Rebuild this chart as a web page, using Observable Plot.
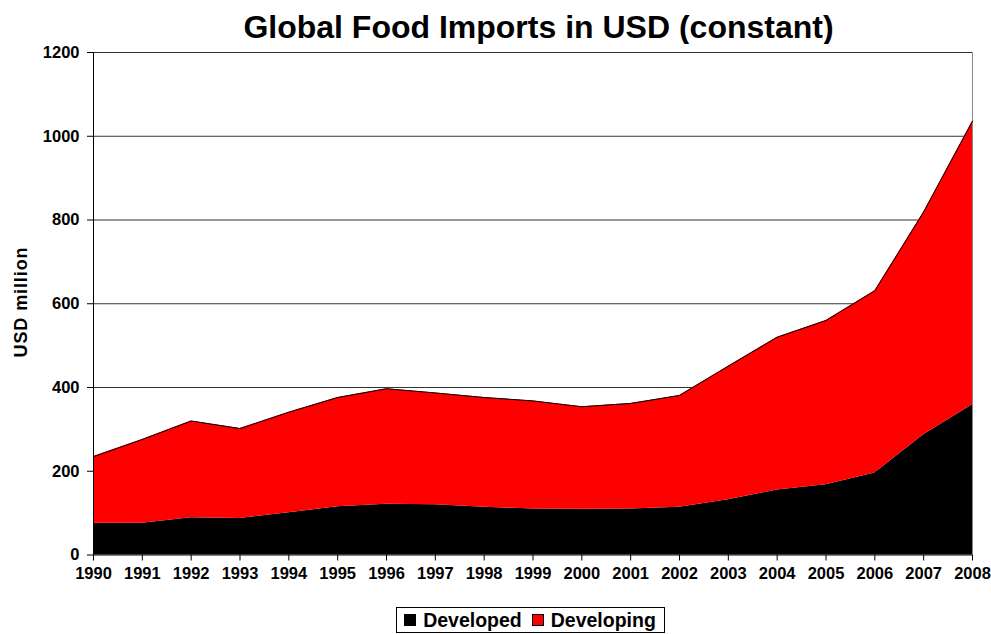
<!DOCTYPE html>
<html>
<head>
<meta charset="utf-8">
<script src="https://cdn.jsdelivr.net/npm/d3@7"></script>
<script src="https://cdn.jsdelivr.net/npm/@observablehq/plot@0.6"></script>
<style>
  html, body { margin: 0; padding: 0; background: #fff; }
  body { width: 991px; height: 634px; overflow: hidden; font-family: Arial, "Liberation Sans", sans-serif; }
  #title { height: 44px; line-height: 30px; padding-top: 12px; box-sizing: border-box; text-align: center; font-size: 32px; font-weight: bold; color: #000; padding-left: 86px; white-space: nowrap; }
  #chart { position: relative; }
  #ylabel { position: absolute; left: 21px; top: 258px; transform: translate(-50%, -50%) rotate(-90deg); font-size: 18px; font-weight: bold; letter-spacing: 0.9px; white-space: nowrap; }
  #legendWrap { display: flex; justify-content: center; padding-left: 70px; margin-top: 3px; }
  #legend { display: flex; align-items: center; border: 1px solid #000; padding: 1px 8px 1px 7px; font-size: 19.5px; font-weight: bold; height: 26px; box-sizing: border-box; }
  .sw { width: 12px; height: 12px; border: 1px solid #000; box-sizing: border-box; margin-right: 7px; }
  .item { display: flex; align-items: center; margin-right: 10px; }
  .item:last-child { margin-right: 0; }
</style>
</head>
<body>
<div id="title">Global Food Imports in USD (constant)</div>
<div id="chart"><div id="ylabel">USD million</div></div>
<div id="legendWrap"><div id="legend"></div></div>
<script>
const years = [1990,1991,1992,1993,1994,1995,1996,1997,1998,1999,2000,2001,2002,2003,2004,2005,2006,2007,2008];
const developed = [76,76,89,87,101,115,121,120,114,110,109,110,114,132,155,168,196,287,359];
const developing = [159,200,231,215,240,261,276,267,262,258,245,252,267,319,365,392,435,532,677];
const seriesNames = ["Developed","Developing"];
const seriesColors = ["#000000","#ff0000"];
const yTicks = [0,200,400,600,800,1000,1200];

const rows = years.flatMap((yr, i) => [
  {year: yr, series: seriesNames[0], value: developed[i]},
  {year: yr, series: seriesNames[1], value: developing[i]}
]);
const totals = years.map((yr, i) => ({year: yr, total: developed[i] + developing[i]}));

const chart = Plot.plot({
  width: 991,
  height: 560,
  marginLeft: 93,
  marginRight: 19,
  marginTop: 8,
  marginBottom: 49.5,
  style: {fontFamily: "Arial, 'Liberation Sans', sans-serif", fontSize: "16.5px", fontWeight: "bold", color: "#000", background: "#fff"},
  x: {domain: [1990, 2008], label: null},
  y: {domain: [0, 1200], label: null},
  color: {domain: seriesNames, range: seriesColors},
  marks: [
    Plot.ruleY(yTicks.filter(t => t > 0), {stroke: "#000", strokeOpacity: 0.8, strokeWidth: 1}),
    Plot.ruleX([2008], {stroke: "#888", strokeWidth: 1}),
    Plot.areaY(rows, {x: "year", y: "value", fill: "series", z: "series"}),
    Plot.lineY(totals, {x: "year", y: "total", stroke: "#000", strokeWidth: 1}),
    Plot.ruleX([1990], {stroke: "#000", strokeWidth: 1}),
    Plot.ruleY([0], {stroke: "#000", strokeWidth: 1}),
    Plot.axisX({ticks: years, tickFormat: d => String(d), tickSize: 6, tickPadding: 6, label: null, fontSize: 16.5, fontWeight: "bold"}),
    Plot.axisY({ticks: yTicks, tickFormat: d => String(d), tickSize: 6, tickPadding: 8, label: null, fontSize: 16.5, fontWeight: "bold"})
  ]
});
document.getElementById("chart").appendChild(chart);

const legend = document.getElementById("legend");
seriesNames.forEach((name, i) => {
  const item = document.createElement("div");
  item.className = "item";
  const sw = document.createElement("div");
  sw.className = "sw";
  sw.style.background = seriesColors[i];
  const label = document.createElement("span");
  label.textContent = name;
  item.appendChild(sw);
  item.appendChild(label);
  legend.appendChild(item);
});
</script>
</body>
</html>
